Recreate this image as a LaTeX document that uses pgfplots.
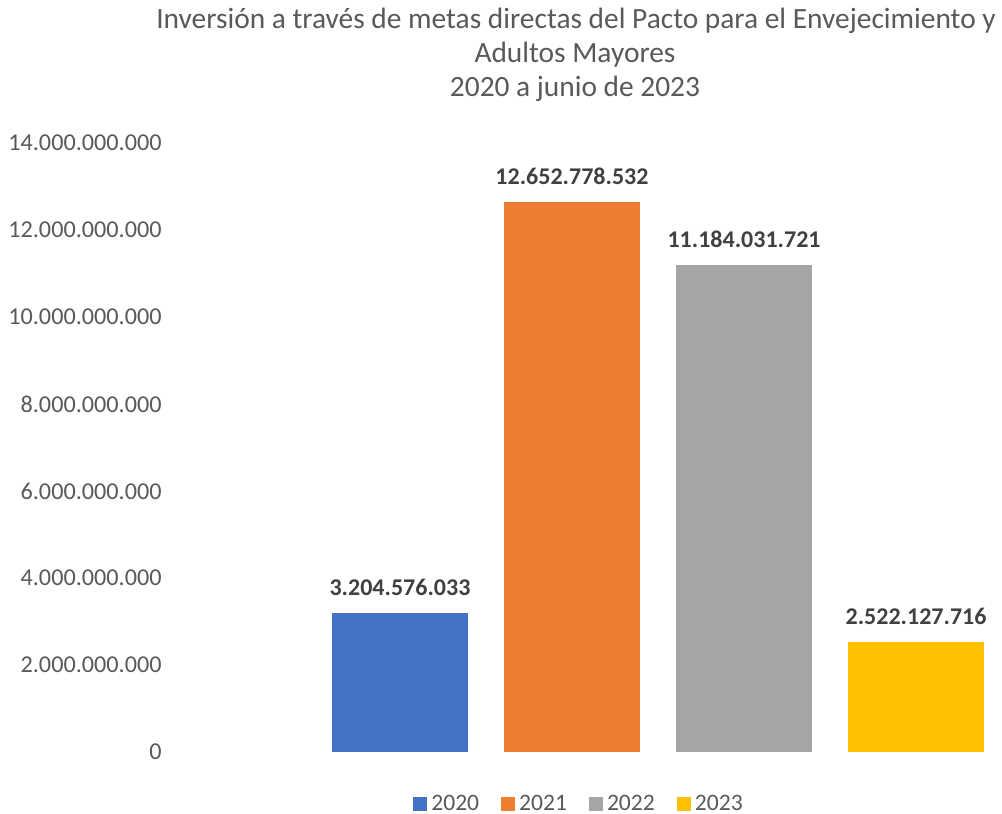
\documentclass[border=0pt]{standalone}
\usepackage{fontspec}
\setmainfont{Carlito}
\usepackage{pgfplots}
\pgfplotsset{compat=1.18}
\definecolor{c20}{HTML}{4472C4}
\definecolor{c21}{HTML}{ED7D31}
\definecolor{c22}{HTML}{A5A5A5}
\definecolor{c23}{HTML}{FFC000}
\definecolor{txtgrey}{HTML}{595959}
\definecolor{lblgrey}{HTML}{404040}
\begin{document}
\begin{tikzpicture}[x=1pt,y=1pt]
\useasboundingbox (0,0) rectangle (501,407);
\tikzset{ttl/.style={anchor=base, text=txtgrey, inner sep=0pt, font=\fontsize{14.7}{17}\selectfont}}
\node[ttl] at (288,392.5) {Inversión a través de metas directas del Pacto para el Envejecimiento y};
\node[ttl] at (287.5,375.5) {Adultos Mayores};
\node[ttl] at (287.5,358.5) {2020 a junio de 2023};
\begin{axis}[
  at={(85pt,31pt)}, anchor=south west,
  scale only axis, width=415pt, height=304.5pt,
  xmin=-1.337, xmax=3.488, ymin=0, ymax=14e9,
  axis line style={draw=none}, major tick length=0pt,
  xtick=\empty, scaled y ticks=false,
  ytick={0,2e9,4e9,6e9,8e9,10e9,12e9,14e9},
  yticklabels={0,2.000.000.000,4.000.000.000,6.000.000.000,8.000.000.000,10.000.000.000,12.000.000.000,14.000.000.000},
  yticklabel style={font=\fontsize{12.1}{14}\selectfont, text=txtgrey, inner sep=0pt, xshift=-4pt},
  nodes near coords, point meta=explicit symbolic,
  every node near coord/.append style={font=\bfseries\fontsize{12}{14}\selectfont, text=lblgrey, anchor=south, inner sep=0pt, yshift=8.5pt},
  legend columns=4,
  legend style={at={(0.494,-0.0854)}, anchor=center, draw=none, fill=none,
    font=\fontsize{11.8}{14}\selectfont, text=txtgrey,
    /tikz/every even column/.append style={column sep=9pt}},
  legend image code/.code={\fill[#1] (0pt,-3.5pt) rectangle (7pt,3.5pt);},
]
\addplot[ybar, bar width=68pt, bar shift=0pt, fill=c20, draw=none] coordinates {(0,3204576033) [3.204.576.033]};
\addplot[ybar, bar width=68pt, bar shift=0pt, fill=c21, draw=none] coordinates {(1,12652778532) [12.652.778.532]};
\addplot[ybar, bar width=68pt, bar shift=0pt, fill=c22, draw=none] coordinates {(2,11184031721) [11.184.031.721]};
\addplot[ybar, bar width=68pt, bar shift=0pt, fill=c23, draw=none] coordinates {(3,2522127716) [2.522.127.716]};
\legend{2020,2021,2022,2023}
\end{axis}
\end{tikzpicture}
\end{document}
